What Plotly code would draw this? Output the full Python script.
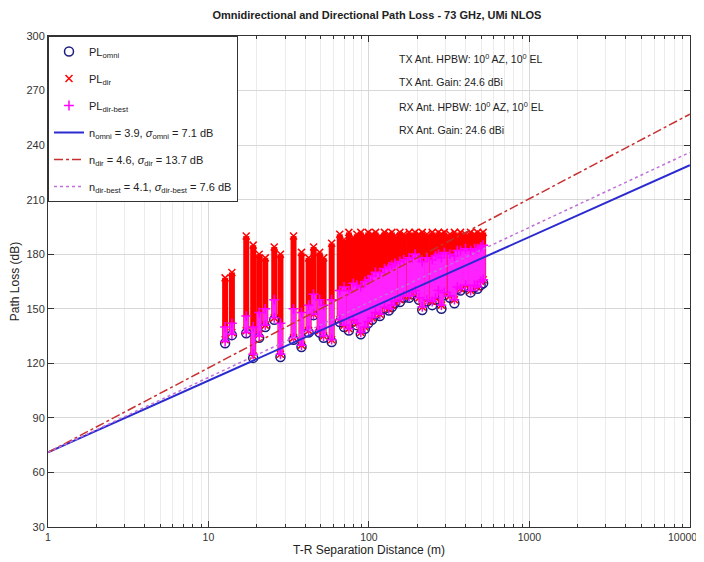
import plotly.graph_objects as go

# Distancias T-R (m) de cada ubicación medida
dist = [12.7, 14.0, 17.2, 19.0, 20.7, 22.6, 25.7, 28.1, 33.9, 38.0,
        42.1, 45.2, 49.3, 52.2, 58.6, 65.8, 70.0, 75.0, 80.0, 84.1,
        89.0, 94.4, 99.0, 104.5, 110, 117, 125, 133, 139, 145,
        156, 165, 178, 186, 194, 205, 215, 230, 248, 260,
        271, 283, 295, 320, 341, 356, 372, 400, 430, 455, 475, 497, 515]

# PL omni (dB), uno por ubicación
pl_omni = [131, 135.5, 136.5, 123, 134, 140, 144, 123.5, 133, 129,
           137, 146.5, 137, 134, 131.7, 142.7, 140, 138, 143, 141,
           136, 139, 142, 144, 147, 146, 150, 149, 151, 153,
           153.7, 156, 156, 158, 159, 155, 149.3, 154, 152, 155,
           158, 150, 157.5, 156, 153, 161, 160, 162, 159, 162, 161, 163, 164]

# PL direccional: mínimo y máximo de cada columna
pl_dir_lo = [133, 137, 138, 124, 136, 141, 145, 125, 134, 130,
             138, 147, 138, 135, 133, 144, 141, 139, 144, 142,
             137, 140, 143, 145, 148, 147, 151, 150, 152, 154,
             155, 157, 157, 159, 160, 156, 151, 155, 154, 156,
             160, 152, 159, 157, 155, 162, 161, 163, 160, 163, 162, 165, 166]
pl_dir_hi = [167, 170, 190, 185, 180, 178, 184, 180, 190, 181,
             178, 184, 181, 178, 186, 191, 188, 192, 189, 191,
             192, 190, 192, 191, 192, 190, 192, 191, 192, 190,
             192, 191, 192, 190, 192, 191, 192, 191, 192, 190,
             192, 191, 192, 191, 192, 190, 192, 191, 192, 191, 192, 191, 192]

# PL dir-best: rango de cada columna
pl_best_lo = [132, 136, 137, 125, 135, 141, 145, 125, 134, 130,
              138, 147, 138, 135, 133, 144, 141, 139, 144, 142,
              137, 140, 143, 145, 148, 147, 151, 150, 152, 154,
              155, 157, 157, 159, 160, 156, 151, 155, 154, 156,
              160, 152, 159, 157, 155, 162, 161, 163, 160, 163, 162, 165, 166]
pl_best_hi = [140, 142, 146, 140, 148, 150, 155, 142, 150, 148,
              152, 158, 155, 152, 155, 160, 162, 160, 164, 163,
              162, 165, 166, 168, 170, 170, 172, 173, 174, 175,
              176, 177, 178, 178, 180, 178, 176, 178, 177, 179,
              180, 178, 181, 180, 179, 182, 182, 183, 182, 183, 183, 184, 185]

# Modelos CI (1 m a 10 km)
d_fit = [1, 10000]
fit_omni = [71, 229]
fit_dir = [71, 257]
fit_best = [71, 236]

x_ticks = [1, 10, 100, 1000, 10000]
# espacios duros al final para que "10000" no se corte en el borde
x_text = ["1", "10", "100", "1000", "10000" + "\u00a0" * 5]

txt_font = "Liberation Sans, Arial, Helvetica, sans-serif"


def columnas(xs, lo, hi):
    cx, cy = [], []
    for x, a, b in zip(xs, lo, hi):
        cx += [x, x, None]
        cy += [a, b, None]
    return cx, cy


fig = go.Figure()

# Columnas direccionales (relleno)
cx, cy = columnas(dist, pl_dir_lo, pl_dir_hi)
fig.add_trace(go.Scatter(x=cx, y=cy, mode="lines", line=dict(color="#ff0000", width=6),
                         showlegend=False, hoverinfo="skip"))

fig.add_trace(go.Scatter(x=dist, y=pl_omni, mode="markers", name="PL<sub>omni</sub>",
                         legendgroup="a",
                         marker=dict(symbol="circle-open", size=9, color="#1c1c80",
                                     line=dict(width=1.5))))

fig.add_trace(go.Scatter(x=dist + dist, y=pl_dir_hi + pl_dir_lo, mode="markers",
                         name="PL<sub>dir</sub>", legendgroup="b",
                         marker=dict(symbol="x-thin-open", size=7, color="#ff0000",
                                     line=dict(width=1.5, color="#e00000"))))

cx, cy = columnas(dist, pl_best_lo, pl_best_hi)
fig.add_trace(go.Scatter(x=cx, y=cy, mode="lines", line=dict(color="#ff22ff", width=5),
                         showlegend=False, hoverinfo="skip"))
fig.add_trace(go.Scatter(x=dist + dist, y=pl_best_hi + pl_best_lo, mode="markers",
                         name="PL<sub>dir-best</sub>", legendgroup="c",
                         marker=dict(symbol="cross-thin-open", size=7, color="#ff00ff",
                                     line=dict(width=1.5, color="#ff00ff"))))

# Lineas de ajuste
fig.add_trace(go.Scatter(x=d_fit, y=fit_omni, mode="lines", legendgroup="d",
                         name="n<sub>omni</sub> = 3.9, <i>σ</i><sub>omni</sub> = 7.1 dB",
                         line=dict(color="#2a2ad0", width=2)))
fig.add_trace(go.Scatter(x=d_fit, y=fit_dir, mode="lines", legendgroup="e",
                         name="n<sub>dir</sub> = 4.6, <i>σ</i><sub>dir</sub> = 13.7 dB",
                         line=dict(color="#c83030", width=1.5, dash="dashdot")))
fig.add_trace(go.Scatter(x=d_fit, y=fit_best, mode="lines", legendgroup="f",
                         name="n<sub>dir-best</sub> = 4.1, <i>σ</i><sub>dir-best</sub> = 7.6 dB",
                         line=dict(color="#c070d8", width=1.5, dash="dot")))

notas = ["TX Ant. HPBW: 10<sup>0</sup> AZ, 10<sup>0</sup> EL",
         "TX Ant. Gain: 24.6 dBi",
         "RX Ant. HPBW: 10<sup>0</sup> AZ, 10<sup>0</sup> EL",
         "RX Ant. Gain: 24.6 dBi"]
for i, t in enumerate(notas):
    fig.add_annotation(x=0.5436, y=0.955 - i * 0.049, xref="paper", yref="paper",
                       text=t, showarrow=False, xanchor="left", yanchor="middle",
                       font=dict(family=txt_font, size=10.5, color="#222"))

# la página deja 8 px de margen: la figura se achica para caber en la ventana
fig.update_layout(
    width=696, height=554,
    margin=dict(l=40, r=14, t=28, b=35),
    paper_bgcolor="white", plot_bgcolor="white",
    title=dict(text="<b>Omnidirectional and Directional Path Loss - 73 GHz, UMi NLOS</b>",
               x=0.53, xanchor="center", y=0.987, yanchor="middle", automargin=False,
               font=dict(family=txt_font, size=11, color="#222")),
    font=dict(family=txt_font, size=11, color="#333"),
    legend=dict(x=0, y=1, xanchor="left", yanchor="top", bgcolor="white",
                bordercolor="#333", borderwidth=1, font=dict(size=11, color="#222"),
                itemwidth=30, tracegroupgap=8),
    showlegend=True,
)

fig.update_xaxes(type="log", range=[0, 4.001], tickmode="array", tickvals=x_ticks,
                 ticktext=x_text, automargin=False, ticklabeloverflow="allow",
                 tickfont=dict(size=10.5),
                 showline=True, linecolor="#333", linewidth=1, mirror="ticks",
                 ticks="inside", ticklen=6, tickcolor="#333",
                 showgrid=True, gridcolor="#d8d8d8", gridwidth=1,
                 minor=dict(showgrid=True, gridcolor="#ececec", ticks="inside",
                            ticklen=3, tickcolor="#333", dtick="D1"),
                 title=dict(text="T-R Separation Distance (m)", standoff=4,
                            font=dict(size=12, color="#222")),
                 zeroline=False)
fig.update_yaxes(range=[30, 300], dtick=30, automargin=False,
                 showline=True, linecolor="#333", linewidth=1, mirror="ticks",
                 ticks="inside", ticklen=6, tickcolor="#333",
                 showgrid=True, gridcolor="#d8d8d8", gridwidth=1,
                 title=dict(text="Path Loss (dB)", standoff=6,
                            font=dict(size=12, color="#222")),
                 zeroline=False)

fig.write_html("out.html")
